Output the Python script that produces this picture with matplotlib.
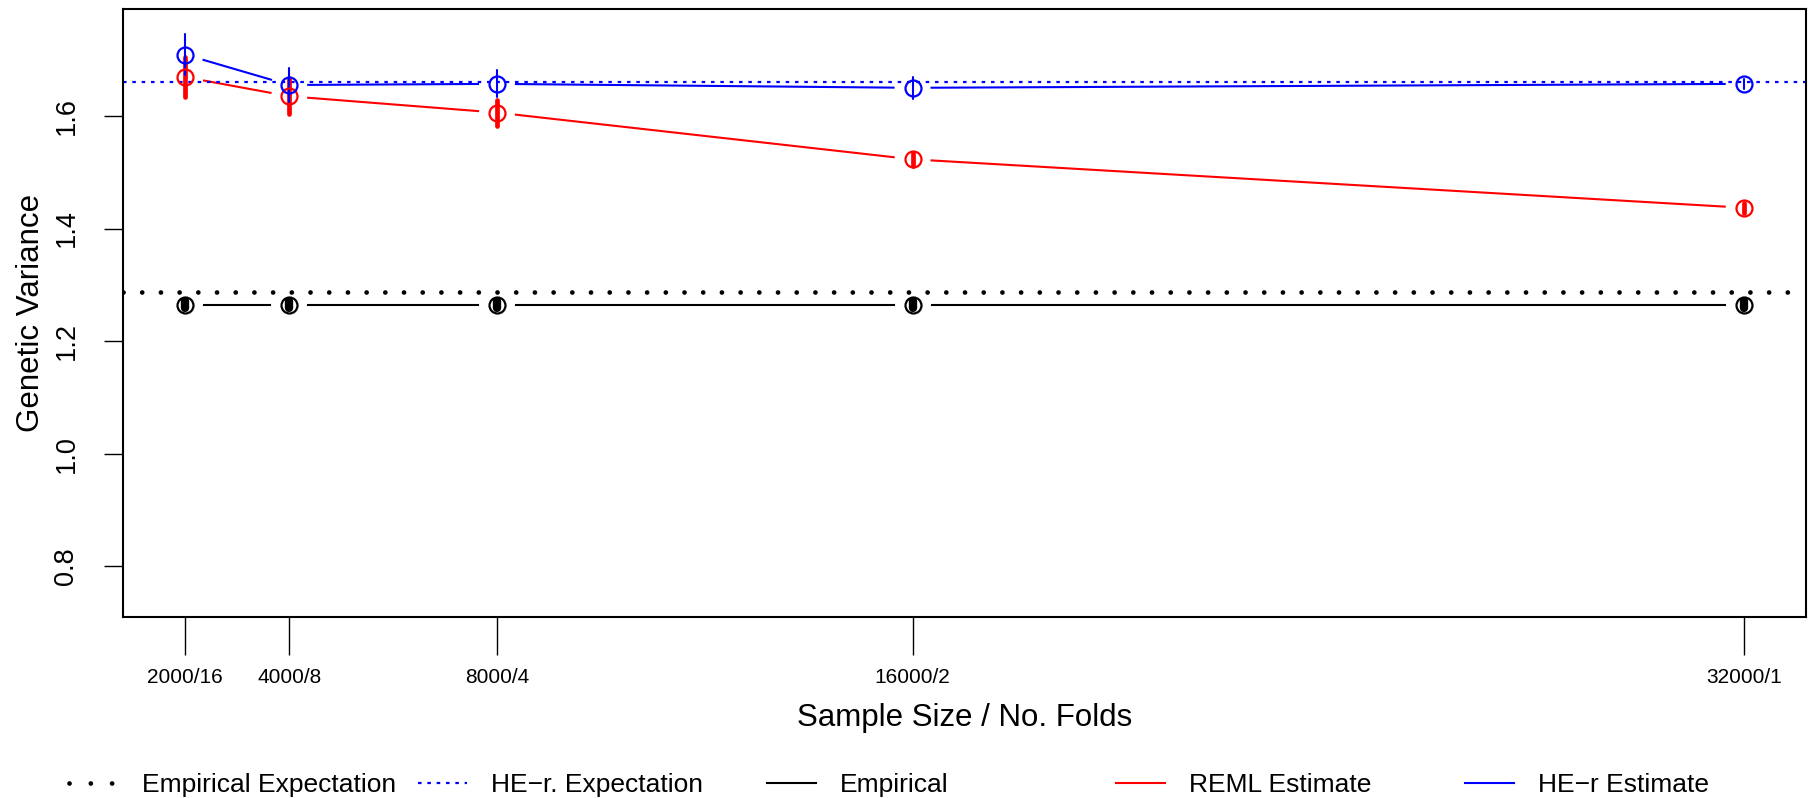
import numpy as np
import matplotlib
matplotlib.use('Agg')
import matplotlib.pyplot as plt
from matplotlib.lines import Line2D

plt.rcParams['font.family'] = ['Liberation Sans', 'DejaVu Sans']

# sample size / folds
sizes = [2000, 4000, 8000, 16000, 32000]
tick_labels = ['2000/16', '4000/8', '8000/4', '16000/2', '32000/1']

reml = [1.669, 1.635, 1.606, 1.523, 1.437]
reml_err = [0.036, 0.032, 0.023, 0.012, 0.009]
her = [1.709, 1.655, 1.657, 1.650, 1.657]
her_err = [0.037, 0.030, 0.024, 0.019, 0.009]
emp = [1.265, 1.265, 1.265, 1.265, 1.265]
emp_err = [0.007, 0.007, 0.007, 0.007, 0.007]

emp_expect = 1.288
her_expect = 1.660

W, H = 1809, 798
fig = plt.figure(figsize=(W / 100, H / 100), dpi=100)
ax = fig.add_axes([123 / W, 1 - 617 / H, (1806 - 123) / W, (617 - 9) / H])
ax.set_xlim(800, 33200)
ax.set_ylim(0.71, 1.79)

def gap_line(xs, ys, gap=19, **kw):
    # R type="b": lines stop short of the points
    pts = ax.transData.transform(np.column_stack([xs, ys]))
    inv = ax.transData.inverted()
    for p0, p1 in zip(pts[:-1], pts[1:]):
        d = p1 - p0
        u = d / np.hypot(*d)
        seg = inv.transform([p0 + u * gap, p1 - u * gap])
        ax.plot(seg[:, 0], seg[:, 1], **kw)

gap_line(sizes, emp, color='black', lw=1.5)
gap_line(sizes, reml, color='red', lw=1.5)
gap_line(sizes, her, color='blue', lw=1.5)

ax.axhline(emp_expect, color='black', lw=3.4, linestyle=(0, (0.01, 3.95)),
           dash_capstyle='round')
ax.axhline(her_expect, color='blue', lw=1.6, linestyle=(0, (1.6, 2.6)))

def err_bars(xs, ys, es, color, lw):
    lo = np.array(ys) - np.array(es)
    hi = np.array(ys) + np.array(es)
    lc = ax.vlines(xs, lo, hi, color=color, lw=lw, zorder=3)
    lc.set_capstyle('round')

err_bars(sizes, emp, emp_err, 'black', 6)
err_bars(sizes, reml, reml_err, 'red', 3.4)
err_bars(sizes, her, her_err, 'blue', 1.5)

ax.plot(sizes, emp, 'o', mfc='none', mec='black', ms=11.5, mew=1.6, zorder=4)
ax.plot(sizes, reml, 'o', mfc='none', mec='red', ms=11.5, mew=1.6, zorder=4)
ax.plot(sizes, her, 'o', mfc='none', mec='blue', ms=11.5, mew=1.6, zorder=4)

for s in ax.spines.values():
    s.set_linewidth(1.5)

ax.set_yticks([0.8, 1.0, 1.2, 1.4, 1.6])
ax.set_yticklabels(['0.8', '1.0', '1.2', '1.4', '1.6'], rotation=90,
                   va='center', ha='center')
ax.tick_params(axis='y', length=13.7, width=1.0, pad=27, labelsize=19.5)
ax.set_xticks(sizes)
ax.set_xticklabels(tick_labels)
ax.tick_params(axis='x', length=27.4, width=1.0, pad=9.5, labelsize=15)

ax.set_xlabel('Sample Size / No. Folds', fontsize=22.5, va='center')
ax.xaxis.set_label_coords(0.5, -(718 - 617) / 608)
ax.set_ylabel('Genetic Variance', fontsize=22.5, va='center')
ax.yaxis.set_label_coords(-(123 - 31) / 1683, 0.5)

# legend row along the bottom
leg_labels = ['Empirical Expectation', 'HE\u2212r. Expectation', 'Empirical',
              'REML Estimate', 'HE\u2212r Estimate']
leg_styles = [
    dict(color='black', lw=3.4, linestyle=(0, (0.01, 4.5)), dash_capstyle='round'),
    dict(color='blue', lw=1.6, linestyle=(0, (1.6, 2.6))),
    dict(color='black', lw=1.5),
    dict(color='red', lw=1.5),
    dict(color='blue', lw=1.5),
]
y_leg = 1 - 782.5 / H
for i, (lab, st) in enumerate(zip(leg_labels, leg_styles)):
    tx = 141.6 + i * 349
    fig.add_artist(Line2D([(tx - 73) / W, (tx - 24) / W], [y_leg, y_leg],
                          transform=fig.transFigure, **st))
    fig.text(tx / W, y_leg, lab, fontsize=19, ha='left', va='center_baseline')

fig.savefig('out.png', dpi=100)
